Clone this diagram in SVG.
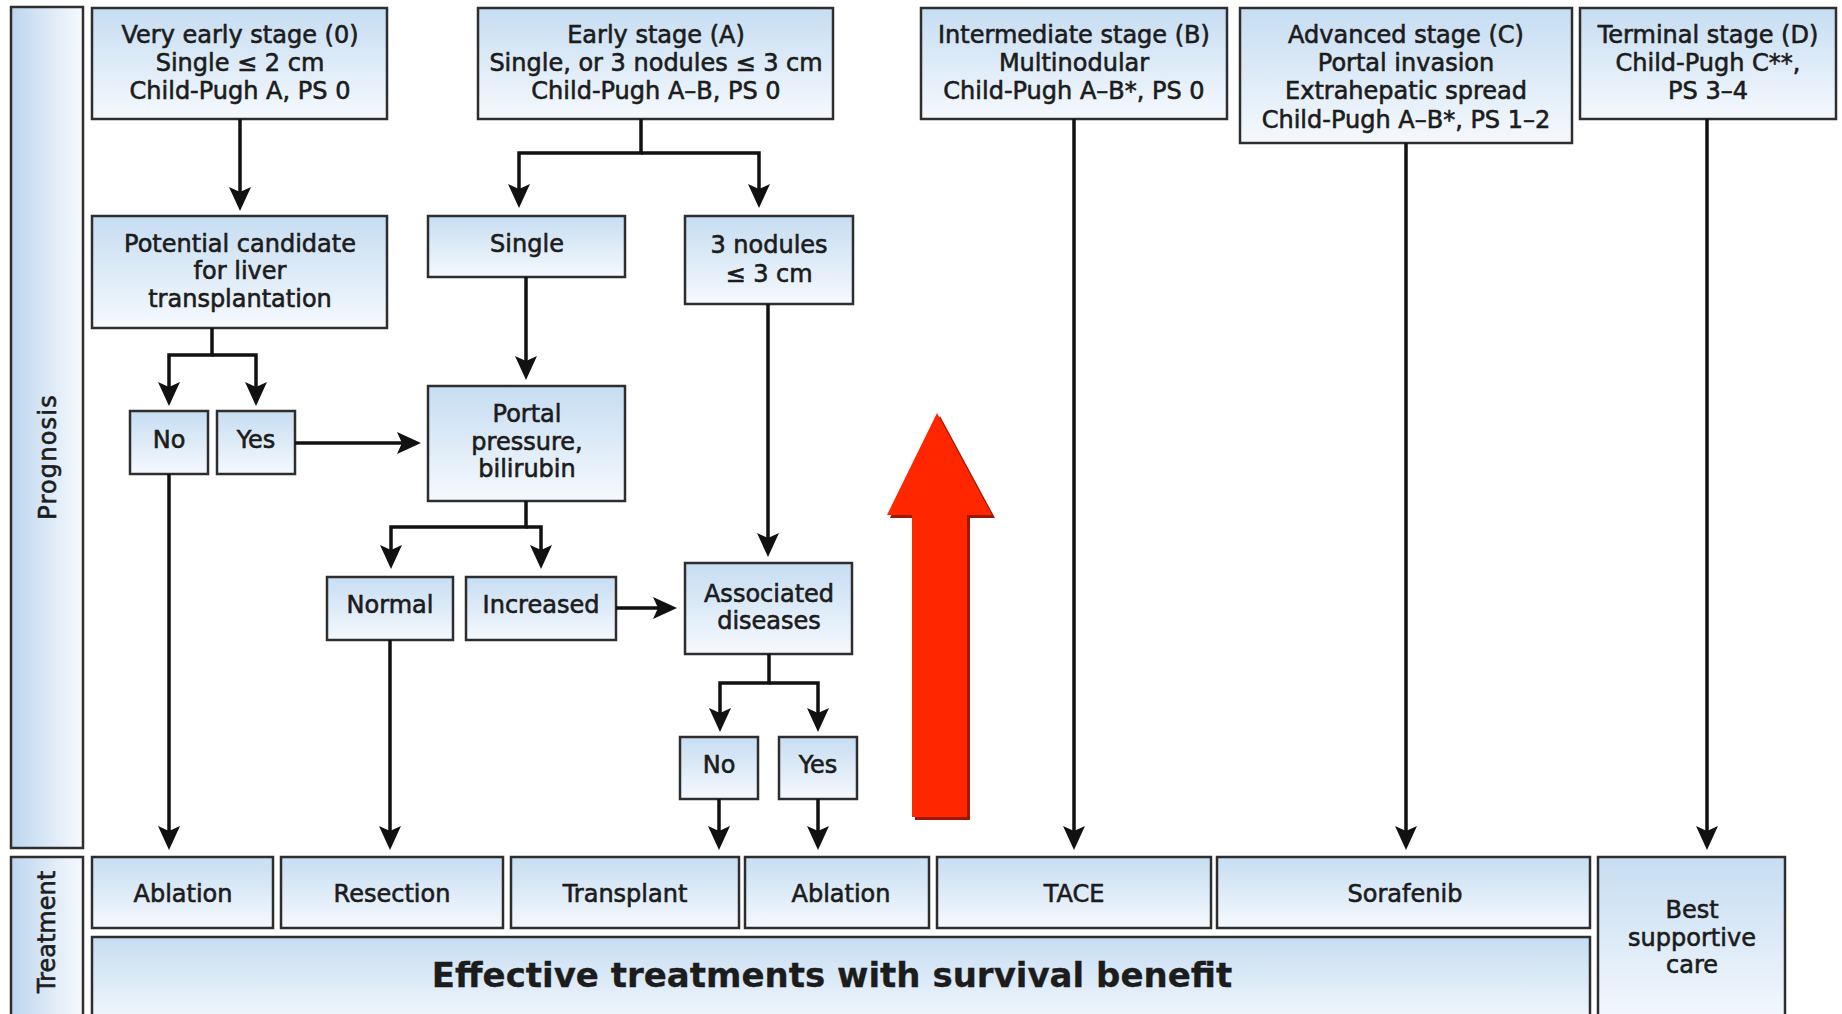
<svg xmlns="http://www.w3.org/2000/svg" width="1842" height="1014" viewBox="0 0 1842 1014">
<style>
.box{fill:url(#gv);stroke:#2e2e2e;stroke-width:2.5}
.bar{fill:url(#gh);stroke:#2e2e2e;stroke-width:2.5}
text{font-family:"DejaVu Sans",sans-serif;font-size:24px;fill:#1c1c1c;stroke:#1c1c1c;stroke-width:0.6;text-anchor:middle}
.big{font-weight:bold;font-size:34px;stroke-width:0.3}
.conn{fill:none;stroke:#111;stroke-width:3.5;stroke-linejoin:miter}
</style>
<defs>
<linearGradient id="gv" x1="0" y1="0" x2="0" y2="1">
<stop offset="0" stop-color="#c6ddf2"/><stop offset="1" stop-color="#f5f9fd"/>
</linearGradient>
<linearGradient id="gh" x1="0" y1="0" x2="1" y2="0">
<stop offset="0" stop-color="#bdd6ee"/><stop offset="1" stop-color="#f7fafd"/>
</linearGradient>
<marker id="ah" markerUnits="userSpaceOnUse" markerWidth="24" markerHeight="22" viewBox="0 0 24 22" refX="14" refY="11" orient="auto">
<path d="M0,0 L24,11 L0,22 L5,11 z" fill="#111"/>
</marker>
</defs>
<rect width="1842" height="1014" fill="#fff"/>

<g id="prognosis-bar"><rect class="bar" x="11" y="7" width="72" height="841"/><text style="letter-spacing:1.2px" transform="rotate(-90 56 457)" x="56" y="457">Prognosis</text></g>
<g id="treatment-bar"><rect class="bar" x="11" y="857" width="72" height="170"/><text transform="rotate(-90 55 932)" x="55" y="932">Treatment</text></g>

<g id="stage0"><rect class="box" x="92" y="8" width="295" height="111"/><text x="240" y="43">Very early stage (0)</text><text x="240" y="71">Single ≤ 2 cm</text><text x="240" y="99">Child-Pugh A, PS 0</text></g>
<g id="stageA"><rect class="box" x="478" y="8" width="355" height="111"/><text x="656" y="43">Early stage (A)</text><text x="656" y="71">Single, or 3 nodules ≤ 3 cm</text><text x="656" y="99">Child-Pugh A–B, PS 0</text></g>
<g id="stageB"><rect class="box" x="921" y="8" width="306" height="111"/><text x="1074" y="43">Intermediate stage (B)</text><text x="1074" y="71">Multinodular</text><text x="1074" y="99">Child-Pugh A–B*, PS 0</text></g>
<g id="stageC"><rect class="box" x="1240" y="8" width="332" height="135"/><text x="1406" y="43">Advanced stage (C)</text><text x="1406" y="71">Portal invasion</text><text x="1406" y="99">Extrahepatic spread</text><text x="1406" y="128">Child-Pugh A–B*, PS 1–2</text></g>
<g id="stageD"><rect class="box" x="1580" y="8" width="256" height="111"/><text x="1708" y="43">Terminal stage (D)</text><text x="1708" y="71">Child-Pugh C**,</text><text x="1708" y="99">PS 3–4</text></g>

<g id="candidate"><rect class="box" x="92" y="216" width="295" height="112"/><text x="240" y="252">Potential candidate</text><text x="240" y="279">for liver</text><text x="240" y="307">transplantation</text></g>
<g id="single"><rect class="box" x="428" y="216" width="197" height="61"/><text x="527" y="252">Single</text></g>
<g id="nodules"><rect class="box" x="685" y="216" width="168" height="88"/><text x="769" y="253">3 nodules</text><text x="769" y="282">≤ 3 cm</text></g>
<g id="no1"><rect class="box" x="130" y="411" width="78" height="63"/><text x="169" y="448">No</text></g>
<g id="yes1"><rect class="box" x="217" y="411" width="78" height="63"/><text x="256" y="448">Yes</text></g>
<g id="portal"><rect class="box" x="428" y="386" width="197" height="115"/><text x="527" y="422">Portal</text><text x="527" y="450">pressure,</text><text x="527" y="477">bilirubin</text></g>
<g id="normal"><rect class="box" x="327" y="577" width="126" height="63"/><text x="390" y="613">Normal</text></g>
<g id="increased"><rect class="box" x="466" y="577" width="150" height="63"/><text x="541" y="613">Increased</text></g>
<g id="associated"><rect class="box" x="685" y="563" width="167" height="91"/><text x="769" y="602">Associated</text><text x="769" y="629">diseases</text></g>
<g id="no2"><rect class="box" x="680" y="737" width="78" height="62"/><text x="719" y="773">No</text></g>
<g id="yes2"><rect class="box" x="779" y="737" width="78" height="62"/><text x="818" y="773">Yes</text></g>

<g id="t-ablation1"><rect class="box" x="92" y="857" width="181" height="71"/><text x="183" y="902">Ablation</text></g>
<g id="t-resection"><rect class="box" x="281" y="857" width="222" height="71"/><text x="392" y="902">Resection</text></g>
<g id="t-transplant"><rect class="box" x="511" y="857" width="228" height="71"/><text x="625" y="902">Transplant</text></g>
<g id="t-ablation2"><rect class="box" x="745" y="857" width="184" height="71"/><text x="841" y="902">Ablation</text></g>
<g id="t-tace"><rect class="box" x="937" y="857" width="274" height="71"/><text x="1074" y="902">TACE</text></g>
<g id="t-sorafenib"><rect class="box" x="1217" y="857" width="373" height="71"/><text x="1405" y="902">Sorafenib</text></g>
<g id="t-bsc"><rect class="box" x="1598" y="857" width="187" height="170"/><text x="1692" y="918">Best</text><text x="1692" y="946">supportive</text><text x="1692" y="973">care</text></g>
<g id="t-effective"><rect class="box" x="92" y="937" width="1498" height="90"/><text class="big" x="832" y="987">Effective treatments with survival benefit</text></g>

<g id="connectors" class="conn" marker-end="url(#ah)">
<path d="M240,119 V201"/>
<path d="M641,119 V153 H519 V198"/>
<path d="M641,153 H759 V198"/>
<path d="M526,277 V370"/>
<path d="M212,328 V355 H169 V396"/>
<path d="M212,355 H256 V396"/>
<path d="M295,443 H411"/>
<path d="M526,501 V527 H391 V559"/>
<path d="M526,527 H541 V559"/>
<path d="M616,608 H667"/>
<path d="M768,304 V547"/>
<path d="M769,654 V683 H720 V722"/>
<path d="M769,683 H818 V722"/>
<path d="M169,474 V840"/>
<path d="M390,640 V840"/>
<path d="M719,799 V840"/>
<path d="M818,799 V840"/>
<path d="M1074,119 V840"/>
<path d="M1406,143 V840"/>
<path d="M1707,119 V840"/>
</g>

<g id="red-arrow">
<polygon points="940,416 995,518 970,518 970,820 915,820 915,518 890,518" fill="#9c1800"/>
<polygon points="937,413 992,515 967,515 967,817 912,817 912,515 887,515" fill="#ff2600"/>
</g>
</svg>
